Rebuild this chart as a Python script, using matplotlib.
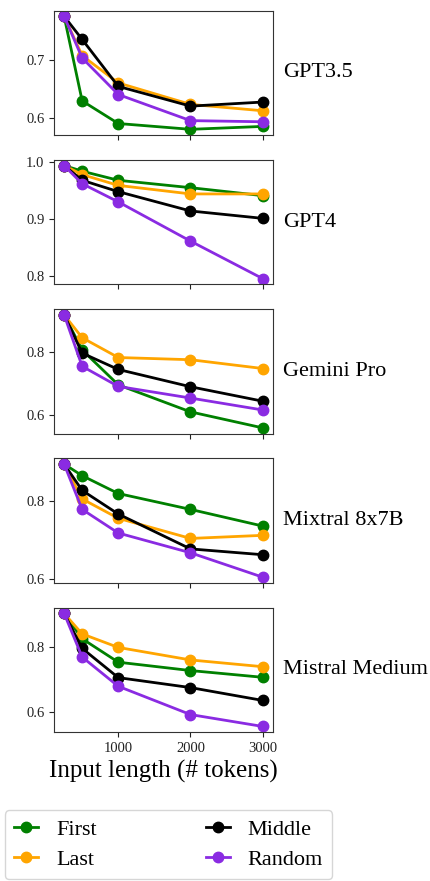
import matplotlib
matplotlib.use("Agg")
import matplotlib.pyplot as plt
from matplotlib.lines import Line2D

plt.rcParams["font.family"] = ["Liberation Serif", "DejaVu Serif"]

lengths = [250, 500, 1000, 2000, 3000]
models = ["GPT3.5", "GPT4", "Gemini Pro", "Mixtral 8x7B", "Mistral Medium"]
positions = ["First", "Last", "Middle", "Random"]
colors = {"First": "green", "Last": "orange", "Middle": "black", "Random": "blueviolet"}

# accuracy per model, per needle position
gpt35 = {
    "First":  [0.775, 0.629, 0.590, 0.580, 0.585],
    "Last":   [0.775, 0.707, 0.660, 0.623, 0.612],
    "Middle": [0.775, 0.735, 0.654, 0.620, 0.627],
    "Random": [0.775, 0.703, 0.640, 0.595, 0.593],
}
gpt4 = {
    "First":  [0.994, 0.984, 0.968, 0.955, 0.941],
    "Last":   [0.994, 0.978, 0.959, 0.944, 0.944],
    "Middle": [0.994, 0.968, 0.948, 0.914, 0.901],
    "Random": [0.994, 0.962, 0.930, 0.861, 0.795],
}
gemini = {
    "First":  [0.919, 0.807, 0.696, 0.610, 0.559],
    "Last":   [0.919, 0.846, 0.783, 0.776, 0.748],
    "Middle": [0.919, 0.797, 0.745, 0.690, 0.644],
    "Random": [0.919, 0.755, 0.691, 0.654, 0.616],
}
mixtral = {
    "First":  [0.896, 0.866, 0.820, 0.779, 0.736],
    "Last":   [0.896, 0.806, 0.756, 0.704, 0.712],
    "Middle": [0.896, 0.828, 0.767, 0.677, 0.662],
    "Random": [0.896, 0.779, 0.718, 0.667, 0.604],
}
mistral = {
    "First":  [0.906, 0.827, 0.754, 0.728, 0.707],
    "Last":   [0.906, 0.842, 0.800, 0.761, 0.740],
    "Middle": [0.906, 0.797, 0.706, 0.675, 0.635],
    "Random": [0.906, 0.770, 0.679, 0.591, 0.554],
}
results = [gpt35, gpt4, gemini, mixtral, mistral]
yticks = [[0.6, 0.7], [0.8, 0.9, 1.0], [0.6, 0.8], [0.6, 0.8], [0.6, 0.8]]

fig, axes = plt.subplots(5, 1, figsize=(4.3, 8.81), dpi=100, sharex=True)
fig.subplots_adjust(left=0.126, right=0.634, top=0.988, bottom=0.169, hspace=0.2)

for ax, model, res, yt in zip(axes, models, results, yticks):
    for pos in positions:
        ax.plot(lengths, res[pos], color=colors[pos], marker="o", lw=2, ms=7.5)
    ax.set_yticks(yt)
    ax.set_xticks([1000, 2000, 3000])
    ax.tick_params(labelsize=10.5, colors="#222222")
    for sp in ax.spines.values():
        sp.set_color("#333333")
    ax.text(1.047, 0.5, model, transform=ax.transAxes, ha="left", va="center", fontsize=16)

axes[-1].set_xlabel("Input length (# tokens)", fontsize=18)

handles = [Line2D([], [], color=colors[p], marker="o", lw=2, ms=7.5) for p in positions]
fig.legend(handles, positions, loc="lower left", ncol=2, mode="expand",
           bbox_to_anchor=(5 / 430, 2 / 881, 327 / 430, 67 / 881),
           fontsize=16, handlelength=1.1, labelspacing=0.45, borderaxespad=0)

fig.savefig("out.png", dpi=100)
